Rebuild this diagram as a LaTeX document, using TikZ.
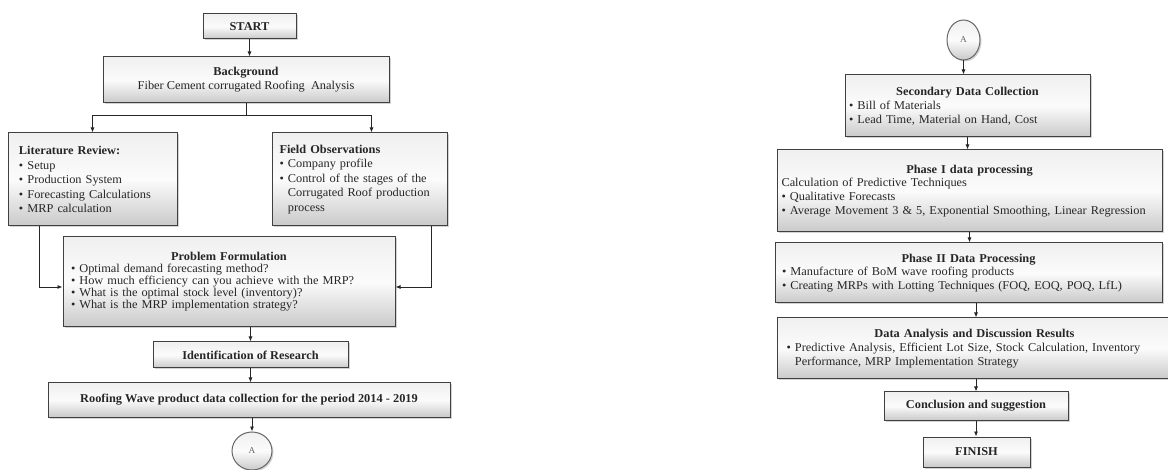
\documentclass[tikz,border=0pt]{standalone}
\usepackage{fontspec}
\setmainfont{Liberation Serif}[FakeStretch=1.03]
\usetikzlibrary{arrows.meta,shadows,shapes.geometric}

\newcommand{\boxtitle}[1]{{\centering\bfseries #1\par}}
\newcommand{\bitem}[1]{\par\noindent\makebox[0.7em][l]{\textbullet}\parbox[t]{\dimexpr\hsize-0.7em\relax}{\raggedright #1}}

\tikzset{
  stage/.style={draw=black!75,line width=1pt,top color=gray!12,bottom color=gray!42,middle color=gray!3,
    drop shadow={opacity=0.35,shadow xshift=1.5pt,shadow yshift=-1.5pt},
    inner sep=0pt,font=\fontsize{12}{13.8}\selectfont,text=black!85},
  stagelist/.style={stage,align=left},
  connector/.style={stage,ellipse,draw=black!60,font=\fontsize{9}{10}\selectfont,text=black!60},
  flow/.style={-{Latex[length=5pt,width=4pt]},line width=0.8pt,black!85}
}

\begin{document}
\begin{tikzpicture}[x=1pt,y=1pt]
    \useasboundingbox (0,0) rectangle (1168,-470);
    %% Left column
    \node[stage,minimum width=93pt,minimum height=25pt] (start) at (249.5,-26.5) {\textbf{START}};
    \node[stage,minimum width=286pt,minimum height=46pt,align=center] (bg) at (246,-80) {\textbf{Background}\\Fiber Cement corrugated Roofing~ Analysis};
    \node[stagelist,minimum width=169pt,minimum height=93pt,text width=147pt,font=\fontsize{12}{14.5}\selectfont] (lit) at (92.5,-179.5)
        {\textbf{Literature Review:}\bitem{Setup}\bitem{Production System}\bitem{Forecasting Calculations}\bitem{MRP calculation}};
    \node[stagelist,minimum width=175pt,minimum height=93pt,text width=160pt,font=\fontsize{12}{14.5}\selectfont] (field) at (359.5,-179.5)
        {\textbf{Field Observations}\bitem{Company profile}\bitem{Control of the stages of the\newline Corrugated Roof production\newline process}};
    \node[stagelist,minimum width=332pt,minimum height=90pt,text width=316pt,font=\fontsize{12}{12}\selectfont] (pf) at (229,-282)
        {\boxtitle{Problem Formulation}\bitem{Optimal demand forecasting method?}\bitem{How much efficiency can you achieve with the MRP?}\bitem{What is the optimal stock level (inventory)?}\bitem{What is the MRP implementation strategy?}};
    \node[stage,minimum width=195pt,minimum height=26pt] (ident) at (250.5,-355) {\textbf{Identification of Research}};
    \node[stage,minimum width=402pt,minimum height=34pt] (roof) at (249,-400) {\textbf{Roofing Wave product data collection for the period 2014 - 2019}};
    \node[connector,minimum width=40pt,minimum height=38pt] (a1) at (252,-451) {A};
    %% Right column
    \node[connector,minimum width=33pt,minimum height=40pt] (a2) at (963.5,-40) {A};
    \node[stagelist,minimum width=245pt,minimum height=62pt,text width=237pt] (sec) at (967.5,-106)
        {\boxtitle{Secondary Data Collection}\bitem{Bill of Materials}\bitem{Lead Time, Material on Hand, Cost}};
    \node[stagelist,minimum width=385pt,minimum height=82pt,text width=376pt] (p1) at (969.5,-191)
        {\boxtitle{Phase I data processing}Calculation of Predictive Techniques\bitem{Qualitative Forecasts}\bitem{Average Movement 3 \& 5, Exponential Smoothing, Linear Regression}};
    \node[stagelist,minimum width=387pt,minimum height=60pt,text width=373pt] (p2) at (968.5,-273)
        {\boxtitle{Phase II Data Processing}\bitem{Manufacture of BoM wave roofing products}\bitem{Creating MRPs with Lotting Techniques (FOQ, EOQ, POQ, LfL)}};
    \node[stagelist,minimum width=395pt,minimum height=61pt,text width=376pt] (da) at (974.5,-348.5)
        {\boxtitle{Data Analysis and Discussion Results}\bitem{Predictive Analysis, Efficient Lot Size, Stock Calculation, Inventory\newline Performance, MRP Implementation Strategy}};
    \node[stage,minimum width=184pt,minimum height=28pt] (concl) at (976,-406) {\textbf{Conclusion and suggestion}};
    \node[stage,minimum width=107pt,minimum height=30pt] (fin) at (976.5,-452) {\textbf{FINISH}};
    %% Arrows left
    \draw[flow] (start.south) -- (start.south |- bg.north);
    \coordinate (split) at ([yshift=-12pt]bg.south);
    \draw[line width=0.8pt,black!85] (bg.south) -- (split);
    \draw[flow] (split) -| (lit.north);
    \draw[flow] (split) -| ([xshift=12pt]field.north);
    \draw[flow] ([xshift=-53.5pt]lit.south) |- ([yshift=-5pt]pf.west);
    \draw[flow] ([xshift=71.5pt]field.south) |- ([yshift=-5pt]pf.east);
    \draw[flow] (pf.south -| ident.north) -- (ident.north);
    \draw[flow] (ident.south) -- (ident.south |- roof.north);
    \draw[flow] (roof.south -| a1.north) -- (a1.north);
    %% Arrows right
    \draw[flow] (a2.south) -- (a2.south |- sec.north);
    \draw[flow] (sec.south) -- (sec.south |- p1.north);
    \draw[flow] (p1.south) -- (p1.south |- p2.north);
    \draw[flow] (p2.south -| concl.north) -- (concl.north |- da.north);
    \draw[flow] (da.south -| concl.north) -- (concl.north);
    \draw[flow] (concl.south) -- (concl.south |- fin.north);
\end{tikzpicture}
\end{document}
